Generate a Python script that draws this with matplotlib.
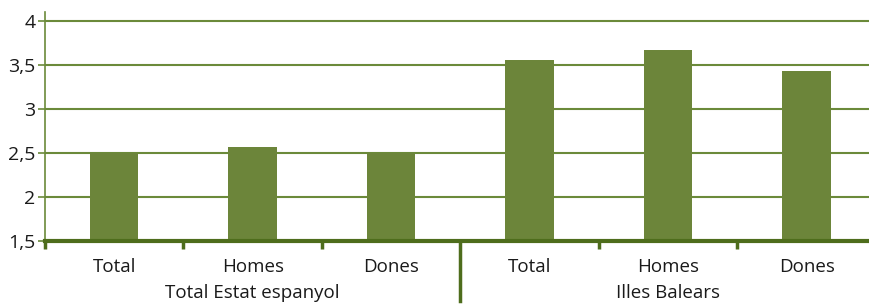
import matplotlib
matplotlib.use("Agg")
import matplotlib.pyplot as plt
import matplotlib.transforms as mtransforms

categories = ['Total', 'Homes', 'Dones', 'Total', 'Homes', 'Dones']
groups = ['Total Estat espanyol', 'Illes Balears']
values = [2.50, 2.57, 2.50, 3.56, 3.67, 3.43]
yticks = [1.5, 2, 2.5, 3, 3.5, 4]
ytick_labels = ['1,5', '2', '2,5', '3', '3,5', '4']

plt.rcParams['font.family'] = ['Open Sans', 'DejaVu Sans']

bar_color = '#6c853a'
grid_color = '#6b8a3a'
axis_color = '#4e6d1c'
text_color = '#1a1a1a'

fig = plt.figure(figsize=(8.7, 3.04), dpi=100)
# the category band runs slightly past the right edge of the figure
ax = fig.add_axes([0.0517, 0.207, 0.955, 0.7535])

x = list(range(len(categories)))
ax.bar(x, values, width=0.35, color=bar_color, zorder=3)

ax.set_xlim(-0.5, 5.5)
ax.set_ylim(1.5, 4.1)

# gridlines
ax.set_yticks(yticks)
ax.set_yticklabels(ytick_labels, fontsize=14, color=text_color)
ax.yaxis.grid(True, color=grid_color, linewidth=1.5, zorder=1)
ax.tick_params(axis='y', length=5, width=1.2, color=grid_color, pad=2)

# category labels
ax.set_xticks(x)
ax.set_xticklabels(categories, fontsize=13.5, color=text_color)
ax.tick_params(axis='x', which='major', length=0, pad=12)
ax.set_xticks([-0.5, 0.5, 1.5, 3.5, 4.5], minor=True)
ax.tick_params(axis='x', which='minor', length=6, width=2.5, color=axis_color)

for s in ['top', 'right']:
    ax.spines[s].set_visible(False)
ax.spines['bottom'].set_color(axis_color)
ax.spines['bottom'].set_linewidth(3)
ax.spines['bottom'].set_zorder(4)
ax.spines['left'].set_color(grid_color)
ax.spines['left'].set_linewidth(1.2)

trans = mtransforms.blended_transform_factory(ax.transData, ax.transAxes)
# group separator
ax.plot([2.5, 2.5], [0, -0.26], transform=trans, color=axis_color,
        linewidth=2.5, clip_on=False, zorder=5)

# group labels
ax.text(1, -0.225, groups[0], transform=trans, ha='center', va='center',
        fontsize=13.5, color=text_color)
ax.text(4, -0.225, groups[1], transform=trans, ha='center', va='center',
        fontsize=13.5, color=text_color)

fig.savefig('out.png', dpi=100)
